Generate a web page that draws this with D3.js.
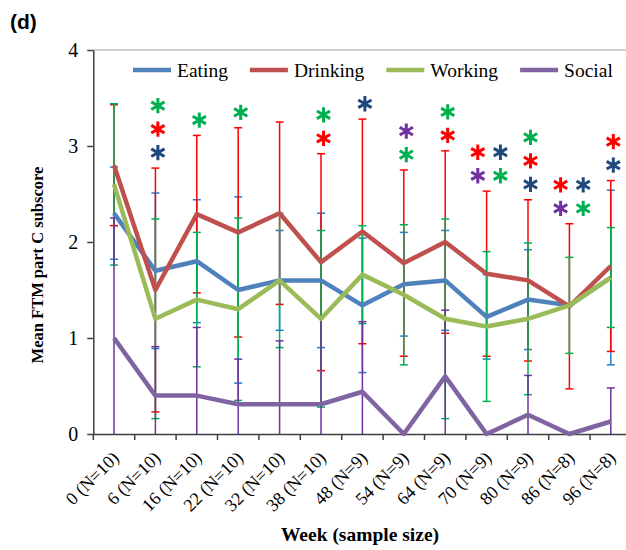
<!DOCTYPE html>
<html>
<head>
<meta charset="utf-8">
<script src="https://cdn.jsdelivr.net/npm/d3@7"></script>
<style>
  body { margin: 0; background: #ffffff; }
  svg { display: block; }
</style>
</head>
<body>
<svg id="chart" width="626" height="550"></svg>
<script>
// Assessment weeks and number of participants at each visit
const weeks = [0, 6, 16, 22, 32, 38, 48, 54, 64, 70, 80, 86, 96];
const sampleSizes = [10, 10, 10, 10, 10, 10, 9, 9, 9, 9, 9, 8, 8];

// Mean FTM part C subscores and standard deviations per domain
const eatingMean   = [2.30, 1.70, 1.80, 1.50, 1.60, 1.60, 1.34, 1.56, 1.60, 1.22, 1.40, 1.34, 1.63];
const eatingSd     = [0.48, 0.81, 0.64, 0.97, 0.52, 0.70, 0.70, 0.54, 0.52, 0.44, 0.52, 0.00, 0.91];
const drinkingMean = [2.80, 1.50, 2.29, 2.10, 2.30, 1.79, 2.11, 1.78, 2.00, 1.67, 1.60, 1.33, 1.75];
const drinkingSd   = [0.63, 1.27, 0.82, 1.09, 0.95, 1.13, 1.17, 0.97, 0.95, 0.86, 0.84, 0.86, 0.89];
const workingMean  = [2.60, 1.20, 1.40, 1.30, 1.60, 1.20, 1.66, 1.45, 1.20, 1.12, 1.20, 1.34, 1.63];
const workingSd    = [0.84, 1.04, 0.70, 0.95, 0.70, 0.92, 0.51, 0.73, 1.04, 0.78, 0.79, 0.50, 0.52];
const socialMean   = [1.00, 0.40, 0.40, 0.31, 0.31, 0.31, 0.44, 0.00, 0.60, 0.00, 0.20, 0.00, 0.13];
const socialSd     = [1.25, 0.51, 0.71, 0.47, 0.66, 0.92, 0.73, 0.00, 0.69, 0.00, 0.41, 0.00, 0.35];

const seriesNames = ["Eating", "Drinking", "Working", "Social"];
const yTicks = [0, 1, 2, 3, 4];

// Significant change versus baseline: rows of markers stacked upward from the top error bar
const significance = [
  { week: 6,  rows: [["Eating"], ["Drinking"], ["Working"]] },
  { week: 16, rows: [["Working"]] },
  { week: 22, rows: [["Working"]] },
  { week: 38, rows: [["Drinking"], ["Working"]] },
  { week: 48, rows: [["Eating"]] },
  { week: 54, rows: [["Working"], ["Social"]] },
  { week: 64, rows: [["Drinking"], ["Working"]] },
  { week: 70, rows: [["Social", "Working"], ["Drinking", "Eating"]] },
  { week: 80, rows: [["Eating"], ["Drinking"], ["Working"]] },
  { week: 86, rows: [["Social", "Working"], ["Drinking", "Eating"]] },
  { week: 96, rows: [["Eating"], ["Drinking"]] }
];

const series = [
  { name: "Eating",   mean: eatingMean,   sd: eatingSd,   line: "#4F81BD", bar: "#1F7FCF", star: "#1F497D" },
  { name: "Drinking", mean: drinkingMean, sd: drinkingSd, line: "#C0504D", bar: "#FF0000", star: "#FF0000" },
  { name: "Working",  mean: workingMean,  sd: workingSd,  line: "#9BBB59", bar: "#00B050", star: "#00B050" },
  { name: "Social",   mean: socialMean,   sd: socialSd,   line: "#8064A2", bar: "#7030A0", star: "#7030A0" }
];
const byName = Object.fromEntries(series.map(s => [s.name, s]));

const serif = "'Liberation Serif', 'Times New Roman', serif";
const svg = d3.select("#chart");

const x = d3.scaleBand().domain(weeks.map(String)).range([93.3, 631.5]).padding(0);
const y = d3.scaleLinear().domain([0, 4]).range([434, 50]);
const cx = i => x(String(weeks[i])) + x.bandwidth() / 2;

// Panel tag
svg.append("text")
  .attr("x", 10).attr("y", 29)
  .attr("font-family", "'Liberation Sans', Arial, sans-serif")
  .attr("font-weight", "bold").attr("font-size", 21)
  .text("(d)");

// Plot-area top edge
svg.append("line")
  .attr("x1", 93.3).attr("x2", 631.5)
  .attr("y1", y(4)).attr("y2", y(4))
  .attr("stroke", "#BFBFBF").attr("stroke-width", 1.5);

// Y axis
const yAxis = svg.append("g")
  .attr("transform", "translate(93.3,0)")
  .call(d3.axisLeft(y).tickValues(yTicks).tickFormat(d3.format("d")).tickSize(6).tickSizeOuter(0).tickPadding(9));
yAxis.select(".domain").attr("stroke", "#404040").attr("stroke-width", 1.5);
yAxis.selectAll(".tick line").attr("stroke", "#404040").attr("stroke-width", 1.5);
yAxis.selectAll(".tick text")
  .attr("font-family", serif).attr("font-size", 20).attr("fill", "#000");

// X axis with labels at category centres and ticks on category boundaries
const xAxis = svg.append("g")
  .attr("transform", `translate(0,${y(0)})`)
  .call(d3.axisBottom(x).tickSize(0).tickSizeOuter(0)
    .tickFormat((w, i) => `${w} (N=${sampleSizes[i]})`));
xAxis.select(".domain").attr("stroke", "#404040").attr("stroke-width", 1.5);
xAxis.selectAll(".tick text")
  .attr("font-family", serif).attr("font-size", 18).attr("fill", "#000")
  .attr("text-anchor", "end")
  .attr("x", 0).attr("y", 0).attr("dy", 0)
  .attr("transform", "translate(6,25) rotate(-45)");
xAxis.selectAll(".boundary")
  .data(weeks.map(w => x(String(w))).concat([x.range()[1]]))
  .join("line")
  .attr("class", "boundary")
  .attr("x1", d => d).attr("x2", d => d)
  .attr("y1", 0).attr("y2", 6)
  .attr("stroke", "#404040").attr("stroke-width", 1.5);

// Axis titles
svg.append("text")
  .attr("transform", `translate(43,265) rotate(-90)`)
  .attr("text-anchor", "middle")
  .attr("font-family", serif).attr("font-weight", "bold").attr("font-size", 16.5)
  .text("Mean FTM part C subscore");

svg.append("text")
  .attr("x", 360).attr("y", 541)
  .attr("text-anchor", "middle")
  .attr("font-family", serif).attr("font-weight", "bold").attr("font-size", 19.5)
  .text("Week (sample size)");

// Error bars (mean ± SD, cut at the axis minimum)
const capHalf = 4;
const barLayer = svg.append("g");
series.forEach(s => {
  const g = barLayer.append("g").attr("stroke", s.bar).attr("stroke-width", 1.5);
  s.mean.forEach((m, i) => {
    const sd = s.sd[i];
    if (sd <= 0) return;
    const hi = m + sd, lo = m - sd;
    const px = cx(i);
    g.append("line").attr("x1", px).attr("x2", px)
      .attr("y1", y(Math.max(0, lo))).attr("y2", y(hi));
    g.append("line").attr("x1", px - capHalf).attr("x2", px + capHalf)
      .attr("y1", y(hi)).attr("y2", y(hi));
    if (lo >= 0) {
      g.append("line").attr("x1", px - capHalf).attr("x2", px + capHalf)
        .attr("y1", y(lo)).attr("y2", y(lo));
    }
  });
});

// Mean lines
const line = d3.line().x((d, i) => cx(i)).y(d => y(d));
series.forEach(s => {
  svg.append("path")
    .datum(s.mean)
    .attr("d", line)
    .attr("fill", "none")
    .attr("stroke", s.line)
    .attr("stroke-width", 4.5)
    .attr("stroke-linejoin", "round");
});

// Significance asterisks
const star = d3.symbol().type(d3.symbolAsterisk).size(165);
const starGap = 0.16, starStep = 0.245, starOffset = 2.5, starPair = 11.3;
const starLayer = svg.append("g");
significance.forEach(sig => {
  const i = weeks.indexOf(sig.week);
  const top = d3.max(series, s => s.mean[i] + s.sd[i]);
  sig.rows.forEach((row, r) => {
    const level = top + starGap + r * starStep;
    row.forEach((name, k) => {
      const shift = row.length === 1 ? 0 : (k === 0 ? -starPair : starPair);
      starLayer.append("path")
        .attr("d", star)
        .attr("transform", `translate(${cx(i) + starOffset + shift},${y(level)})`)
        .attr("fill", "none")
        .attr("stroke", byName[name].star)
        .attr("stroke-width", 3);
    });
  });
});

// Legend
const legend = svg.append("g").attr("transform", "translate(0,70)");
let lx = 133;
series.forEach(s => {
  legend.append("line")
    .attr("x1", lx).attr("x2", lx + 38)
    .attr("y1", 0).attr("y2", 0)
    .attr("stroke", s.line).attr("stroke-width", 4.5);
  const t = legend.append("text")
    .attr("x", lx + 44).attr("y", 7)
    .attr("font-family", serif).attr("font-size", 19.5).attr("fill", "#000")
    .text(s.name);
  lx += 44 + t.node().getComputedTextLength() + 22;
});
</script>
</body>
</html>
